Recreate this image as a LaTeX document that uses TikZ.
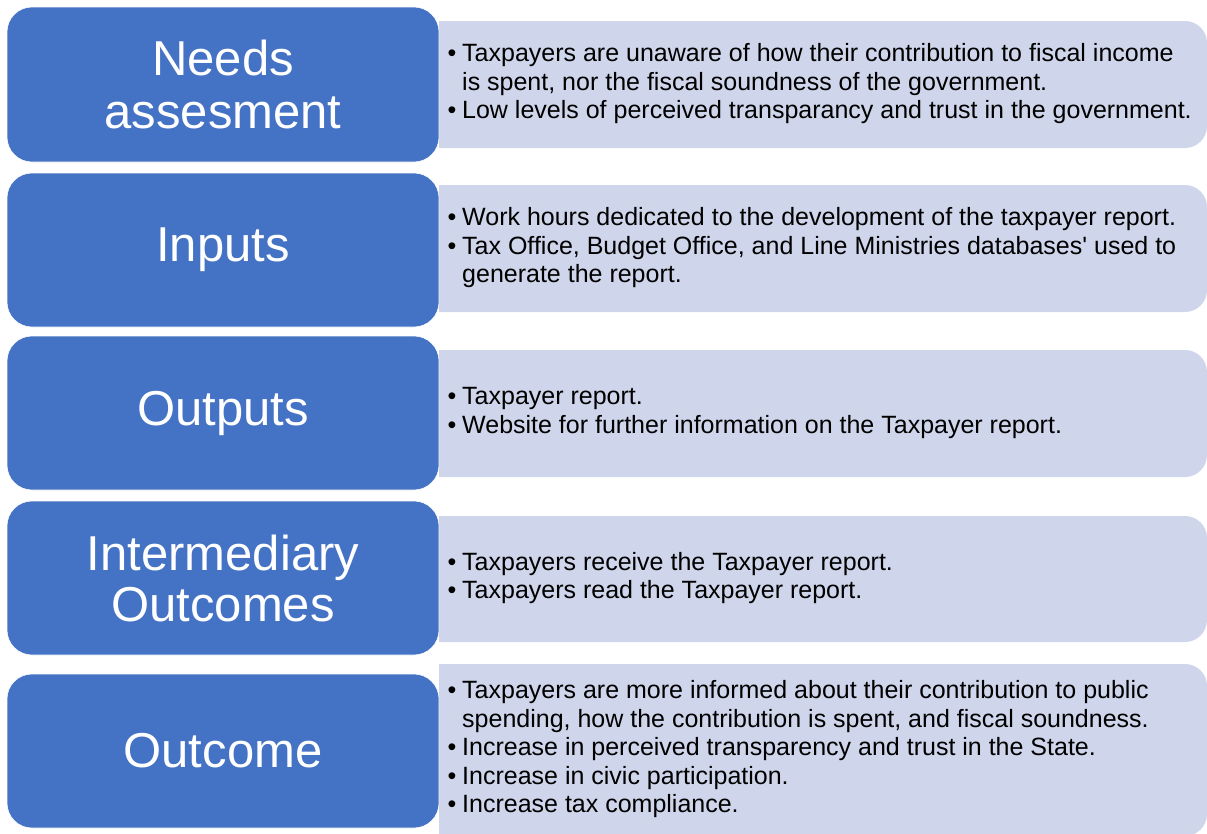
\documentclass[tikz,border=0pt]{standalone}
\usepackage{fontspec}
\setmainfont{Liberation Sans}
\definecolor{stageblue}{HTML}{4472C4}
\definecolor{notefill}{HTML}{CFD5EA}
% bullet with hanging indent for the note lists
\newcommand{\bul}{\makebox[14.5pt][l]{\textbullet}}
\newcommand{\hang}{\hspace*{14.5pt}}
\tikzset{
  stagebox/.style={rectangle, rounded corners=25pt, fill=stageblue, draw=white, line width=0.6pt,
    text=white, align=center, inner sep=0pt, minimum width=432pt,
    font=\fontsize{49}{51}\selectfont},
  notebox/.style={rectangle, rounded corners=22pt, fill=notefill, inner sep=0pt, minimum width=807pt},
  notetext/.style={anchor=west, align=left, inner sep=0pt, text=black,
    font=\fontsize{25}{28.5}\selectfont},
}
\begin{document}
\begin{tikzpicture}[x=1pt,y=-1pt]
\useasboundingbox (0,0) rectangle (1207,833);

% light panels, square on the left where they meet the stage boxes
\begin{scope}
  \clip (439,0) rectangle (1230,860);
  \node[notebox, minimum height=127pt] (p1) at (803.5,84.5) {};
  \node[notebox, minimum height=127pt] (p2) at (803.5,248.5) {};
  \node[notebox, minimum height=127pt] (p3) at (803.5,413.5) {};
  \node[notebox, minimum height=126pt] (p4) at (803.5,579) {};
  \node[notebox, minimum height=172pt] (p5) at (803.5,750) {};
\end{scope}

% stage boxes
\node[stagebox, minimum height=155pt] (s1) at (223,84.5) {\raisebox{2pt}{Needs}\\assesment};
\node[stagebox, minimum height=154pt] (s2) at (223,250) {\raisebox{2pt}{Inputs}};
\node[stagebox, minimum height=154pt] (s3) at (223,413) {Outputs};
\node[stagebox, minimum height=154pt] (s4) at (223,578) {Intermediary\\Outcomes};
\node[stagebox, minimum height=154pt] (s5) at (223,751) {Outcome};

% notes
\node[notetext] (t1) at (447.5,84.5) {%
\strut\bul Taxpayers are unaware of how their contribution to fiscal income\\
\strut\hang is spent, nor the fiscal soundness of the government.\\
\strut\bul Low levels of perceived transparancy and trust in the government.};
\node[notetext] (t2) at (447.5,248.5) {%
\strut\bul Work hours dedicated to the development of the taxpayer report.\\
\strut\bul Tax Office, Budget Office, and Line Ministries databases\textquotesingle{} used to\\
\strut\hang generate the report.};
\node[notetext] (t3) at (447.5,413.5) {%
\strut\bul Taxpayer report.\\
\strut\bul Website for further information on the Taxpayer report.};
\node[notetext] (t4) at (447.5,579) {%
\strut\bul Taxpayers receive the Taxpayer report.\\
\strut\bul Taxpayers read the Taxpayer report.};
\node[notetext] (t5) at (447.5,750) {%
\strut\bul Taxpayers are more informed about their contribution to public\\
\strut\hang spending, how the contribution is spent, and fiscal soundness.\\
\strut\bul Increase in perceived transparency and trust in the State.\\
\strut\bul Increase in civic participation.\\
\strut\bul Increase tax compliance.};
\end{tikzpicture}
\end{document}
